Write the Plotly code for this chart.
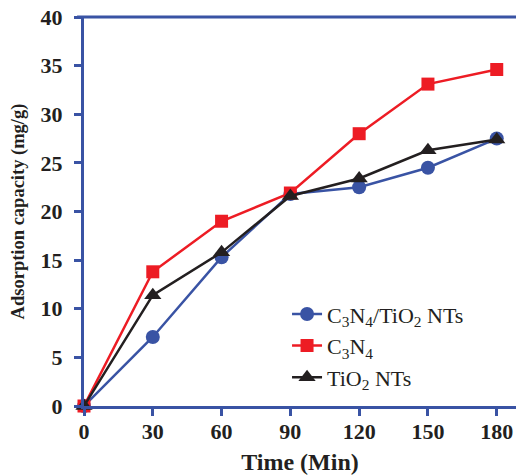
import plotly.graph_objects as go

time_min = [0, 30, 60, 90, 120, 150, 180]
c3n4_tio2 = [0, 7.1, 15.3, 21.8, 22.5, 24.5, 27.5]
c3n4 = [0, 13.8, 19.0, 21.9, 28.0, 33.1, 34.6]
tio2 = [0, 11.4, 15.8, 21.6, 23.4, 26.3, 27.4]

names = ["C<sub>3</sub>N<sub>4</sub>/TiO<sub>2</sub> NTs",
         "C<sub>3</sub>N<sub>4</sub>",
         "TiO<sub>2</sub> NTs"]
x_ticks = [0, 30, 60, 90, 120, 150, 180]
y_ticks = [0, 5, 10, 15, 20, 25, 30, 35, 40]

blue = "#3953a4"
red = "#ed1c24"
black = "#231f20"
serif = "Liberation Serif, Times New Roman, serif"

fig = go.Figure()
fig.add_trace(go.Scatter(x=time_min, y=c3n4_tio2, name=names[0], mode="lines+markers",
                         line=dict(color=blue, width=2.5),
                         marker=dict(symbol="circle", size=14, color=blue), cliponaxis=False))
fig.add_trace(go.Scatter(x=time_min, y=c3n4, name=names[1], mode="lines+markers",
                         line=dict(color=red, width=2.5),
                         marker=dict(symbol="square", size=13, color=red), cliponaxis=False))
fig.add_trace(go.Scatter(x=time_min, y=tio2, name=names[2], mode="lines+markers",
                         line=dict(color=black, width=2.5),
                         marker=dict(symbol="triangle-up", size=15, color=black), cliponaxis=False))

fig.update_layout(
    width=516, height=475,
    margin=dict(l=84, r=0, t=17, b=69),
    plot_bgcolor="white", paper_bgcolor="white",
    font=dict(family=serif, color="#231f20"),
    showlegend=True,
    legend=dict(x=0.47, y=0.29, xanchor="left", yanchor="top",
                font=dict(family=serif, size=22, color="#231f20"),
                bgcolor="rgba(0,0,0,0)", tracegroupgap=0),
    xaxis=dict(range=[0, 188.4], tickvals=x_ticks, ticktext=[f"<b>{v}</b>" for v in x_ticks],
               automargin=False,
               showgrid=False, zeroline=False, showline=True, linecolor=blue, linewidth=3,
               ticks="outside", ticklen=7, tickwidth=3, tickcolor=blue, ticklabelstandoff=-3,
               tickfont=dict(family=serif, size=22, color="#231f20"),
               title=dict(text="<b>Time (Min)</b>", font=dict(family=serif, size=24, color="#231f20"),
                          standoff=12)),
    yaxis=dict(range=[0, 40], tickvals=y_ticks, ticktext=[f"<b>{v}</b>" for v in y_ticks],
               automargin=False,
               showgrid=False, zeroline=False, showline=True, linecolor=blue, linewidth=3,
               ticks="outside", ticklen=7, tickwidth=3, tickcolor=blue, ticklabelstandoff=7,
               tickfont=dict(family=serif, size=22, color="#231f20"),
               title=dict(text="<b>Adsorption capacity (mg/g)</b>",
                          font=dict(family=serif, size=18.5, color="#231f20"), standoff=12)),
)
fig.add_shape(type="line", xref="paper", yref="paper", x0=-0.016, x1=1, y0=1, y1=1,
              line=dict(color=blue, width=3))

# remove the default 8px page margin so the figure sits at the window's corner
fig.write_html("out.html", config={"displayModeBar": False},
               post_script="document.body.style.margin='0';")
